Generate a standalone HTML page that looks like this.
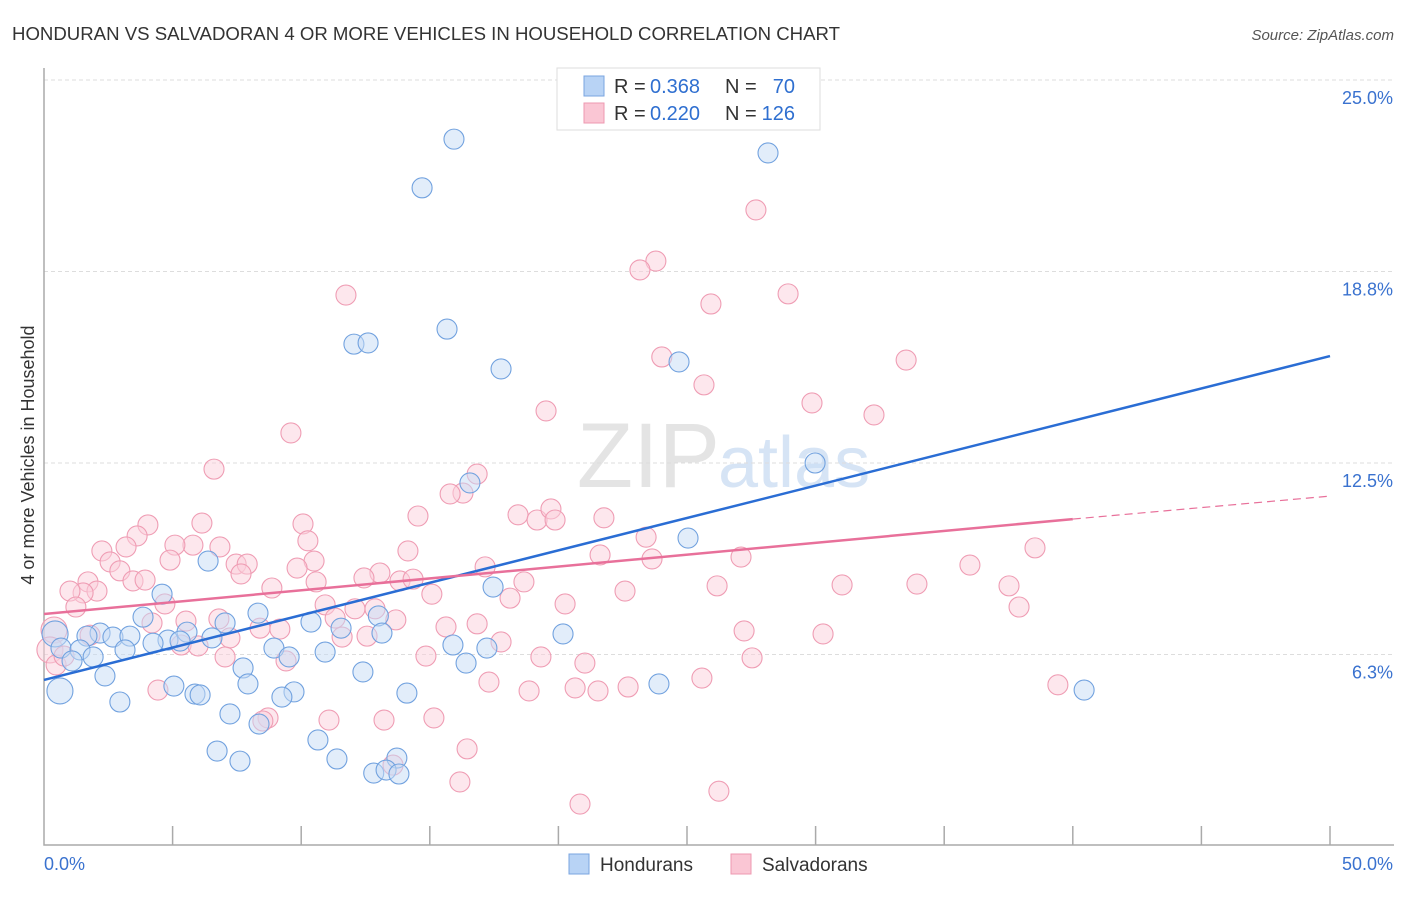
<!DOCTYPE html>
<html><head><meta charset="utf-8"><style>
body{margin:0;background:#fff;font-family:"Liberation Sans",sans-serif}
svg text{font-family:"Liberation Sans",sans-serif}
</style></head><body>
<svg id="c" width="1406" height="892" xmlns="http://www.w3.org/2000/svg">
<text x="12" y="40" font-size="18" fill="#333" textLength="828" lengthAdjust="spacingAndGlyphs">HONDURAN VS SALVADORAN 4 OR MORE VEHICLES IN HOUSEHOLD CORRELATION CHART</text>
<text x="1394" y="40" font-size="15" fill="#555" font-style="italic" text-anchor="end">Source: ZipAtlas.com</text>
<text x="720" y="487" font-size="92" fill="#e4e4e4" text-anchor="end" font-family="Liberation Serif">ZIP</text>
<text x="718" y="487" font-size="72" fill="#d6e4f5">atlas</text>
<g id="grid"></g><g id="axes"></g><g id="pts"></g><g id="trend"></g>
<text transform="translate(34,455) rotate(-90)" font-size="18" fill="#333" text-anchor="middle">4 or more Vehicles in Household</text>
<g>
<rect x="557" y="68" width="263" height="62" fill="#fff" stroke="#ddd"/>
<rect x="584" y="76" width="20" height="20" fill="#b8d3f5" stroke="#7aa5e0"/>
<rect x="584" y="103" width="20" height="20" fill="#fac6d4" stroke="#ee98b0"/>
<text x="614" y="93" font-size="20" fill="#333">R =</text>
<text x="650" y="93" font-size="20" fill="#2f6fd0">0.368</text>
<text x="725" y="93" font-size="20" fill="#333">N =</text>
<text x="795" y="93" font-size="20" fill="#2f6fd0" text-anchor="end">70</text>
<text x="614" y="120" font-size="20" fill="#333">R =</text>
<text x="650" y="120" font-size="20" fill="#2f6fd0">0.220</text>
<text x="725" y="120" font-size="20" fill="#333">N =</text>
<text x="795" y="120" font-size="20" fill="#2f6fd0" text-anchor="end">126</text>
</g>
<g>
<rect x="569" y="854" width="20" height="20" fill="#b8d3f5" stroke="#7aa5e0"/>
<text x="600" y="871" font-size="19" fill="#333">Hondurans</text>
<rect x="731" y="854" width="20" height="20" fill="#fac6d4" stroke="#ee98b0"/>
<text x="762" y="871" font-size="19" fill="#333">Salvadorans</text>
</g>
</svg>
<script>
const yTicks=[25.0,18.8,12.5,6.3];
const yTickVals=[25,18.75,12.5,6.25];
const xTickLabels=["0.0%","50.0%"];
const hondX=[15.94,28.15,14.70,15.67,12.05,12.60,17.77,24.69,29.98,16.56,25.04,6.38,4.59,17.46,3.85,8.32,13.0,10.38,11.55,13.14,7.04,5.56,2.18,2.68,3.34,4.82,4.24,5.29,6.53,1.67,0.43,0.66,1.40,1.91,1.09,3.15,8.94,9.53,10.93,15.90,17.22,20.18,16.41,7.74,12.40,2.37,5.05,7.93,5.87,6.07,9.72,9.25,14.11,23.91,40.44,0.62,2.95,7.23,8.36,10.65,6.73,7.62,11.39,13.72,12.82,13.30,13.80];
const hondY=[23.07,22.62,21.48,16.87,16.38,16.42,15.57,15.80,12.50,11.85,10.05,9.30,8.22,8.45,7.47,7.60,7.51,7.31,7.11,6.95,7.28,6.98,6.95,6.82,6.85,6.72,6.62,6.69,6.79,6.85,6.92,6.46,6.40,6.17,6.04,6.40,6.46,6.17,6.33,6.56,6.46,6.92,5.97,5.81,5.68,5.55,5.22,5.29,4.96,4.93,5.03,4.86,4.99,5.29,5.09,5.06,4.70,4.31,3.98,3.46,3.10,2.77,2.84,2.87,2.38,2.48,2.35];
const hondBig=[30,55];
const salvX=[27.68,23.79,23.17,11.74,25.93,28.93,24.02,33.52,25.66,29.86,32.27,19.52,9.60,6.61,16.84,16.29,15.79,14.54,10.07,6.14,4.04,18.43,19.17,19.71,19.87,21.77,23.41,10.26,3.62,3.19,2.25,5.79,5.09,6.84,14.15,21.62,23.64,27.10,38.53,36.00,17.15,10.50,9.84,7.47,7.90,4.90,2.57,2.95,7.66,13.06,12.44,13.84,14.35,3.46,3.93,1.71,2.06,1.52,1.01,8.86,10.58,18.66,15.08,18.12,22.59,26.17,31.03,33.94,37.52,37.91,20.26,10.93,12.09,12.87,4.70,1.24,11.32,13.68,5.52,6.80,4.20,8.40,9.17,15.63,16.84,12.56,11.59,27.22,30.29,7.23,1.79,5.33,5.99,17.77,0.39,0.23,0.47,0.78,7.04,9.41,14.85,19.32,27.53,21.03,17.30,18.86,20.65,21.54,22.71,25.58,4.43,39.42,8.71,8.51,11.08,13.22,15.16,16.45,13.57,16.17,20.84,26.24];
const salvY=[20.76,19.09,18.80,17.98,17.69,18.02,15.96,15.86,15.05,14.46,14.07,14.20,13.48,12.30,12.14,11.52,11.49,10.77,10.51,10.54,10.48,10.81,10.64,11.0,10.64,10.71,10.08,9.96,10.12,9.76,9.63,9.82,9.82,9.76,9.63,9.50,9.37,9.43,9.73,9.17,9.11,9.30,9.07,9.20,9.20,9.33,9.27,8.98,8.88,8.91,8.75,8.65,8.71,8.65,8.68,8.62,8.32,8.26,8.32,8.42,8.62,8.62,8.22,8.09,8.32,8.49,8.52,8.55,8.49,7.80,7.90,7.87,7.74,7.74,7.90,7.80,7.44,7.38,7.34,7.41,7.28,7.11,7.08,7.15,7.25,6.85,6.82,7.02,6.92,6.79,6.88,6.56,6.53,6.66,7.05,6.40,5.91,6.20,6.17,6.04,6.20,6.17,6.14,5.97,5.35,5.06,5.16,5.06,5.19,5.48,5.09,5.26,4.18,4.08,4.11,4.11,4.18,3.17,2.64,2.09,1.37,1.79];
const salvBig=[94,95];
const hondTrendX=[0,50], hondTrendY=[5.42,15.99];
const salvTrendX=[0,40,50], salvTrendY=[7.57,10.67,11.42];

const X=v=>44+v/50*1286, Y=v=>80+(25-v)*30.64;
const NS="http://www.w3.org/2000/svg";
function mk(p,t,a){const e=document.createElementNS(NS,t);for(const k in a)e.setAttribute(k,a[k]);p.appendChild(e);return e;}
const grid=document.getElementById('grid'),axes=document.getElementById('axes'),pts=document.getElementById('pts'),tr=document.getElementById('trend');
yTickVals.forEach((v,i)=>{
 const l=mk(grid,'line',{x1:44,x2:1394,y1:Y(v),y2:Y(v),stroke:'#ddd','stroke-dasharray':'4,3'});
 
 
 const t=mk(grid,'text',{x:1393,y:Y(v)+24,'font-size':18,fill:'#3a72cf','text-anchor':'end'});
 t.textContent=yTicks[i].toFixed(1)+'%';
 
 
});
const ax=mk(axes,'path',{d:`M44,68V845H1394`,fill:'none',stroke:'#aaa','stroke-width':1.5});


for(let v=5;v<=50;v+=5){const t=mk(axes,'line',{x1:X(v),x2:X(v),y1:826,y2:845,stroke:'#aaa','stroke-width':1.5});
 
 }
[[0,'start'],[50,'end']].forEach(([v,a],i)=>{const t=mk(axes,'text',{x:X(v)+(i?63:0),y:870,'font-size':18,fill:'#3a72cf','text-anchor':a});
 t.textContent=xTickLabels[i];
 
 });
function dots(xs,ys,big,fill,stroke,name){xs.forEach((x,i)=>{const c=mk(pts,'circle',{cx:X(x),cy:Y(ys[i]),r:big.includes(i)?13:10,fill:fill,'fill-opacity':0.5,stroke:stroke,'stroke-width':1.1});
 
 });}
dots(salvX,salvY,salvBig,'#fbd0dc','#ef9db4','salvadoran-point');
dots(hondX,hondY,hondBig,'#c6dcf6','#72a2df','honduran-point');
const bl=mk(tr,'line',{x1:X(hondTrendX[0]),y1:Y(hondTrendY[0]),x2:X(hondTrendX[1]),y2:Y(hondTrendY[1]),stroke:'#2a6dd4','stroke-width':2.5});


const pl=mk(tr,'line',{x1:X(salvTrendX[0]),y1:Y(salvTrendY[0]),x2:X(salvTrendX[1]),y2:Y(salvTrendY[1]),stroke:'#e8709a','stroke-width':2.5});


const pd=mk(tr,'line',{x1:X(salvTrendX[1]),y1:Y(salvTrendY[1]),x2:X(salvTrendX[2]),y2:Y(salvTrendY[2]),stroke:'#e8709a','stroke-width':1.2,'stroke-dasharray':'8,5'});


</script>
</body></html>
